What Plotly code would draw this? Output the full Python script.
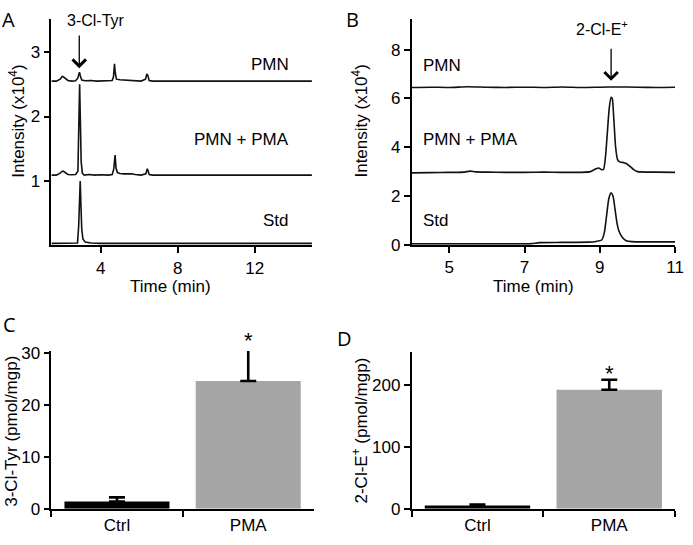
import plotly.graph_objects as go

# ---------------- Panel A: chromatograms (3-Cl-Tyr) ----------------
a_pmn_t = [1.45, 1.7, 1.9, 2.0, 2.05, 2.15, 2.3, 2.5, 2.7, 2.82, 2.87, 2.9, 2.95, 3.02, 3.2, 3.5, 3.8, 4.1,
           4.4, 4.6, 4.67, 4.72, 4.76, 4.82, 5.0, 5.2, 5.4, 5.6, 5.8, 6.1, 6.33, 6.4, 6.45, 6.52, 6.7, 7.5,
           9.0, 11.0, 13.0, 15.0]
a_pmn_y = [2.55, 2.55, 2.58, 2.62, 2.62, 2.59, 2.56, 2.55, 2.555, 2.6, 2.68, 2.69, 2.63, 2.565, 2.555, 2.56,
           2.55, 2.555, 2.55, 2.56, 2.62, 2.82, 2.68, 2.58, 2.57, 2.565, 2.57, 2.565, 2.56, 2.55, 2.58, 2.66,
           2.64, 2.56, 2.55, 2.55, 2.55, 2.55, 2.55, 2.55]

a_pma_t = [1.45, 1.7, 1.9, 2.0, 2.07, 2.15, 2.3, 2.5, 2.7, 2.82, 2.87, 2.91, 2.95, 2.99, 3.05, 3.15, 3.4, 3.7,
           4.0, 4.4, 4.6, 4.68, 4.75, 4.8, 4.87, 5.0, 5.2, 5.4, 5.6, 5.8, 6.1, 6.35, 6.42, 6.46, 6.52, 6.7,
           7.5, 9.0, 11.0, 13.0, 15.0]
a_pma_y = [1.09, 1.09, 1.12, 1.15, 1.15, 1.13, 1.1, 1.095, 1.1, 1.15, 1.8, 2.5, 1.9, 1.3, 1.12, 1.09, 1.1,
           1.09, 1.095, 1.09, 1.1, 1.18, 1.4, 1.2, 1.13, 1.115, 1.11, 1.115, 1.11, 1.1, 1.09, 1.11, 1.19,
           1.16, 1.1, 1.09, 1.09, 1.09, 1.09, 1.09, 1.09]

a_std_t = [1.45, 2.0, 2.6, 2.8, 2.86, 2.9, 2.94, 2.98, 3.02, 3.08, 3.2, 3.5, 4.0, 6.0, 9.0, 12.0, 15.0]
a_std_y = [0.03, 0.03, 0.03, 0.035, 0.3, 0.8, 1.0, 0.6, 0.25, 0.1, 0.05, 0.035, 0.03, 0.03, 0.03, 0.03, 0.03]

a_xticks = [4, 8, 12]
a_yticks = [1, 2, 3]

# ---------------- Panel B: chromatograms (2-Cl-E+) ----------------
b_pmn_t = [4.0, 4.5, 5.0, 5.5, 6.0, 6.5, 7.0, 7.5, 8.0, 8.5, 9.0, 9.5, 10.0, 10.5, 11.0]
b_pmn_y = [6.45, 6.46, 6.45, 6.48, 6.46, 6.45, 6.46, 6.45, 6.47, 6.45, 6.46, 6.47, 6.46, 6.45, 6.46]

b_pma_t = [4.0, 4.5, 5.0, 5.4, 5.55, 5.7, 6.0, 6.5, 7.0, 7.5, 8.0, 8.5, 8.75, 8.9, 8.97, 9.05, 9.1, 9.15,
           9.2, 9.25, 9.3, 9.33, 9.37, 9.42, 9.47, 9.52, 9.6, 9.7, 9.8, 9.9, 10.0, 10.5, 11.0]
b_pma_y = [2.95, 2.96, 2.97, 2.98, 3.02, 2.99, 2.98, 2.97, 2.97, 2.98, 2.97, 2.97, 3.0, 3.12, 3.15, 3.08,
           3.1, 3.6, 4.6, 5.6, 6.05, 6.0, 5.2, 4.0, 3.5, 3.4, 3.38, 3.33, 3.22, 3.08, 3.0, 2.98, 2.97]

b_std_t = [4.0, 5.0, 6.0, 7.0, 7.2, 7.4, 8.0, 8.7, 8.9, 9.05, 9.12, 9.18, 9.24, 9.3, 9.35, 9.4, 9.45, 9.5,
           9.6, 9.7, 9.85, 10.2, 11.0]
b_std_y = [0.04, 0.04, 0.04, 0.04, 0.05, 0.09, 0.1, 0.11, 0.14, 0.2, 0.5, 1.2, 1.9, 2.13, 2.0, 1.5, 0.95,
           0.6, 0.3, 0.17, 0.13, 0.12, 0.12]

b_xticks = [5, 7, 9, 11]
b_yticks = [0, 2, 4, 6, 8]

# ---------------- Panels C and D: bar charts ----------------
groups = ["Ctrl", "PMA"]
c_values = [1.4, 24.6]
c_errors = [0.8, 6.6]
d_values = [5.5, 192]
d_errors = [1.5, 16]
bar_colors = ["#000000", "#a6a6a6"]

c_yticks = [0, 10, 20, 30]
d_yticks = [0, 100, 200]

# ---------------- figure ----------------
W, H = 693, 545
FONT = "Liberation Sans, Arial, sans-serif"
LW = 1.6
LC = "#111111"


def px_x(p):
    return p / W


def px_y(p):
    return 1 - p / H


A_X = [px_x(52), px_x(316)]
A_Y = [px_y(246), px_y(12)]
B_X = [px_x(417), px_x(684)]
B_Y = [px_y(245.5), px_y(12)]
C_X = [px_x(52), px_x(318)]
C_Y = [px_y(518), px_y(355)]
D_X = [px_x(417), px_x(684)]
D_Y = [px_y(518), px_y(356)]
C_RANGE = [0, 30.37]
D_RANGE = [0, 253]


def data_to_paper(v, rng, dom):
    return dom[0] + (v - rng[0]) / (rng[1] - rng[0]) * (dom[1] - dom[0])


fig = go.Figure()

for t, y in [(a_pmn_t, a_pmn_y), (a_pma_t, a_pma_y), (a_std_t, a_std_y)]:
    fig.add_trace(go.Scatter(x=t, y=y, mode="lines", line=dict(color=LC, width=LW),
                             xaxis="x", yaxis="y", showlegend=False))

for t, y in [(b_pmn_t, b_pmn_y), (b_pma_t, b_pma_y), (b_std_t, b_std_y)]:
    fig.add_trace(go.Scatter(x=t, y=y, mode="lines", line=dict(color=LC, width=LW, shape="spline", smoothing=0.6),
                             xaxis="x2", yaxis="y2", showlegend=False))

fig.add_trace(go.Bar(x=groups, y=c_values, marker=dict(color=bar_colors, line=dict(width=0)), width=0.8,
                     cliponaxis=False,
                     error_y=dict(type="data", array=c_errors, arrayminus=[0, 0], symmetric=False,
                                  color="black", thickness=2.6, width=8),
                     xaxis="x3", yaxis="y3", showlegend=False))
fig.add_trace(go.Bar(x=groups, y=d_values, marker=dict(color=bar_colors, line=dict(width=0)), width=0.8,
                     cliponaxis=False,
                     error_y=dict(type="data", array=d_errors, arrayminus=[0, 0], symmetric=False,
                                  color="black", thickness=2.6, width=8),
                     xaxis="x4", yaxis="y4", showlegend=False))

axis_common = dict(showline=True, linecolor="black", linewidth=1.6, ticks="outside", ticklen=6,
                   tickwidth=1.6, tickcolor="black", showgrid=False, zeroline=False,
                   tickfont=dict(family=FONT, size=17, color="black"))

fig.update_layout(
    width=W, height=H, autosize=False,
    margin=dict(l=0, r=0, t=0, b=0),
    paper_bgcolor="white", plot_bgcolor="white",
    font=dict(family=FONT, size=17, color="black"),
    xaxis=dict(domain=A_X, range=[1.44, 14.97], tickvals=a_xticks, anchor="y", **axis_common),
    yaxis=dict(domain=A_Y, range=[0, 3.52], tickvals=a_yticks, anchor="x", **axis_common),
    xaxis2=dict(domain=B_X, range=[4, 11], tickvals=b_xticks, anchor="y2", **axis_common),
    yaxis2=dict(domain=B_Y, range=[0, 9.27], tickvals=b_yticks, anchor="x2", **axis_common),
    xaxis3=dict(domain=C_X, type="category", range=[-0.5, 1.5], tickson="boundaries",
                anchor="y3", **axis_common),
    yaxis3=dict(domain=C_Y, range=C_RANGE, tickvals=c_yticks, anchor="x3", **axis_common),
    xaxis4=dict(domain=D_X, type="category", range=[-0.5, 1.5], tickson="boundaries",
                anchor="y4", **axis_common),
    yaxis4=dict(domain=D_Y, range=D_RANGE, tickvals=d_yticks, anchor="x4", **axis_common),
)

txt_font = dict(family=FONT, size=17, color="black")
ann = []
# panel letters
for letter, x, y in [("A", 9, 13), ("B", 357, 13), ("C", 10, 328), ("D", 349, 342)]:
    ann.append(dict(text=letter, x=px_x(x), y=px_y(y), xref="paper", yref="paper", showarrow=False,
                    xanchor="center", yanchor="middle",
                    font=dict(family="Open Sans, sans-serif", size=20, color="black")))

# axis titles (as annotations for exact placement)
titles = [
    ("Time (min)", "x domain", "y domain", 0.458, -0.183, 0),
    ("Time (min)", "x2 domain", "y2 domain", 0.461, -0.183, 0),
    ("Intensity (x10<sup>4</sup>)", "x domain", "y domain", -0.133, 0.548, -90),
    ("Intensity (x10<sup>4</sup>)", "x2 domain", "y2 domain", -0.197, 0.548, -90),
    ("3-Cl-Tyr (pmol/mgp)", "x3 domain", "y3 domain", -0.150, 0.494, -90),
    ("2-Cl-E<sup>+</sup> (pmol/mgp)", "x4 domain", "y4 domain", -0.197, 0.497, -90),
]
for txt, xr, yr, x, y, ang in titles:
    ann.append(dict(text=txt, x=x, y=y, xref=xr, yref=yr, showarrow=False, textangle=ang,
                    xanchor="center", yanchor="middle", font=txt_font))

# trace labels, panel A (right aligned)
for txt, y in [("PMN", 2.80), ("PMN + PMA", 1.64), ("Std", 0.39)]:
    ann.append(dict(text=txt, x=13.9, y=y, xref="x", yref="y", showarrow=False, xanchor="right",
                    yanchor="middle", font=txt_font))
# trace labels, panel B (left aligned)
for txt, y in [("PMN", 7.36), ("PMN + PMA", 4.32), ("Std", 1.01)]:
    ann.append(dict(text=txt, x=4.25, y=y, xref="x2", yref="y2", showarrow=False, xanchor="left",
                    yanchor="middle", font=txt_font))

# arrows marking the analyte peaks
ann.append(dict(x=2.89, y=2.75, ax=2.89, ay=3.28, xref="x", yref="y", axref="x", ayref="y", text="",
                showarrow=True, arrowhead=4, arrowsize=2.0, arrowwidth=1.3, arrowcolor="black"))
ann.append(dict(text="3-Cl-Tyr", x=3.75, y=3.49, xref="x", yref="y", showarrow=False, xanchor="center",
                yanchor="middle", font=dict(family=FONT, size=16, color="black")))
ann.append(dict(x=9.3, y=6.72, ax=9.3, ay=8.1, xref="x2", yref="y2", axref="x2", ayref="y2", text="",
                showarrow=True, arrowhead=4, arrowsize=2.0, arrowwidth=1.3, arrowcolor="black"))
ann.append(dict(text="2-Cl-E<sup>+</sup>", x=9.05, y=8.87, xref="x2", yref="y2", showarrow=False,
                xanchor="center", yanchor="middle", font=dict(family=FONT, size=16, color="black")))

# significance asterisks (positioned from the bar tops via the axis scale)
ann.append(dict(text="*", x=0.75, y=data_to_paper(c_values[1] + c_errors[1], C_RANGE, C_Y),
                xref="x3 domain", yref="paper", showarrow=False,
                xanchor="center", yanchor="bottom", yshift=-8, font=dict(family=FONT, size=22, color="black")))
ann.append(dict(text="*", x=0.75, y=data_to_paper(d_values[1] + d_errors[1], D_RANGE, D_Y),
                xref="x4 domain", yref="paper", showarrow=False,
                xanchor="center", yanchor="bottom", yshift=-8, font=dict(family=FONT, size=22, color="black")))

fig.update_layout(annotations=ann)

fig.write_html("out.html", config={"displayModeBar": False},
               post_script="document.body.style.margin='0';document.body.style.overflow='hidden';")
